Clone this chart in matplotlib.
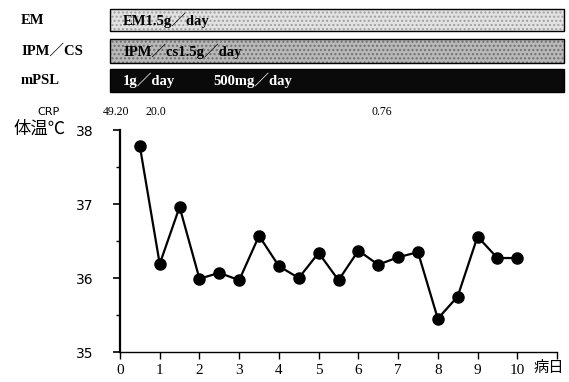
import numpy as np
import matplotlib
matplotlib.use("Agg")
import matplotlib.pyplot as plt
from matplotlib.patches import Rectangle

# ---- data ----
days = [0.5, 1, 1.5, 2, 2.5, 3, 3.5, 4, 4.5, 5, 5.5, 6, 6.5, 7, 7.5, 8, 8.5, 9, 9.5, 10]
temps = [37.78, 36.19, 36.96, 35.99, 36.07, 35.97, 36.57, 36.16, 36.0, 36.34,
         35.97, 36.37, 36.18, 36.28, 36.35, 35.45, 35.75, 36.56, 36.27, 36.27]
crp_days = [0, 1, 6.7]
crp_vals = ["49.20", "20.0", "0.76"]
x_ticks = list(range(0, 11))
y_ticks = [35, 36, 37, 38]

drug_names = ["EM", "IPM\uff0fCS", "mPSL"]
drug_texts = [["EM1.5g\uff0fday"], ["IPM\uff0fcs1.5g\uff0fday"], ["1g\uff0fday", "500mg\uff0fday"]]
drug_colors = ["#e2e2e2", "#b8b8b8", "#0a0a0a"]
hatch_colors = ["#a0a0a0", "#707070", "#0a0a0a"]
text_colors = ["black", "black", "white"]

SERIF = ["Liberation Serif", "Noto Sans CJK JP"]
CJK = ["Noto Sans CJK JP", "DejaVu Sans"]

W, H = 569, 382
fig = plt.figure(figsize=(W / 100, H / 100), dpi=100)

def px(x0, y0, x1, y1):
    """pixel box (top-left origin) -> figure rect"""
    return [x0 / W, 1 - y1 / H, (x1 - x0) / W, (y1 - y0) / H]

#------ MAIN TEMPERATURE AXES ------
ax = fig.add_axes(px(120, 130, 557, 352))
ax.plot(days, temps, color="black", lw=1.6, marker="o", ms=8,
        markerfacecolor="black", markeredgecolor="black", zorder=3)
ax.set_xlim(0, 11)
ax.set_ylim(35, 38)
for s in ["top", "right"]:
    ax.spines[s].set_visible(False)
ax.spines["left"].set_linewidth(1.6)
ax.spines["bottom"].set_linewidth(1.0)
ax.set_xticks(list(range(0, 12)))
ax.set_xticklabels([str(t) for t in x_ticks] + [""], fontfamily=SERIF, fontsize=11)
ax.set_yticks(y_ticks)
ax.set_yticklabels([str(t) for t in y_ticks], fontfamily="DejaVu Sans", fontsize=10)
ax.set_yticks([35.5, 36.5, 37.5], minor=True)
ax.tick_params(axis="y", which="major", direction="out", length=5, width=1.2, pad=14)
ax.tick_params(axis="y", which="minor", direction="out", length=3, width=1.0)
ax.tick_params(axis="x", direction="out", length=5, width=1.0, pad=4)
ax.text(10.4, 34.79, "病日", fontfamily=CJK, fontsize=11, ha="left", va="center",
        transform=ax.transData, clip_on=False)

# CRP row above the plot
fig.text(48 / W, 1 - 112 / H, "CRP", fontfamily="DejaVu Sans", fontsize=8,
         ha="center", va="center")
for d, v in zip(crp_days, crp_vals):
    xf = ax.transData.transform((d, 35))[0] / fig.dpi / fig.get_figwidth()
    fig.text(xf - 4 / W, 1 - 112 / H, v, fontfamily=SERIF, fontsize=8.5,
             ha="center", va="center")
fig.text(40 / W, 1 - 129 / H, "体温℃", fontfamily=CJK, fontsize=12.5,
         ha="center", va="center")

#------ TREATMENT BARS ------
bx = fig.add_axes(px(0, 0, W, 100))
bx.set_xlim(0, W)
bx.set_ylim(100, 0)
bx.axis("off")
rows = [(9, 31), (39, 63), (69, 92)]
for i, (y0, y1) in enumerate(rows):
    bx.add_patch(Rectangle((110, y0), 454, y1 - y0, facecolor=drug_colors[i],
                           edgecolor=hatch_colors[i], hatch="....", lw=0))
    bx.add_patch(Rectangle((110, y0), 454, y1 - y0, facecolor="none",
                           edgecolor="black", lw=1.0))
    yc = (y0 + y1) / 2
    bx.text(21, yc, drug_names[i], fontfamily=SERIF, fontweight="bold",
            fontsize=10.5, ha="left", va="center")
    starts = [123, 213]
    for j, t in enumerate(drug_texts[i]):
        bx.text(starts[j], yc, t, fontfamily=SERIF, fontweight="bold", fontsize=10.5,
                color=text_colors[i], ha="left", va="center")

fig.savefig("out.png", dpi=100)
